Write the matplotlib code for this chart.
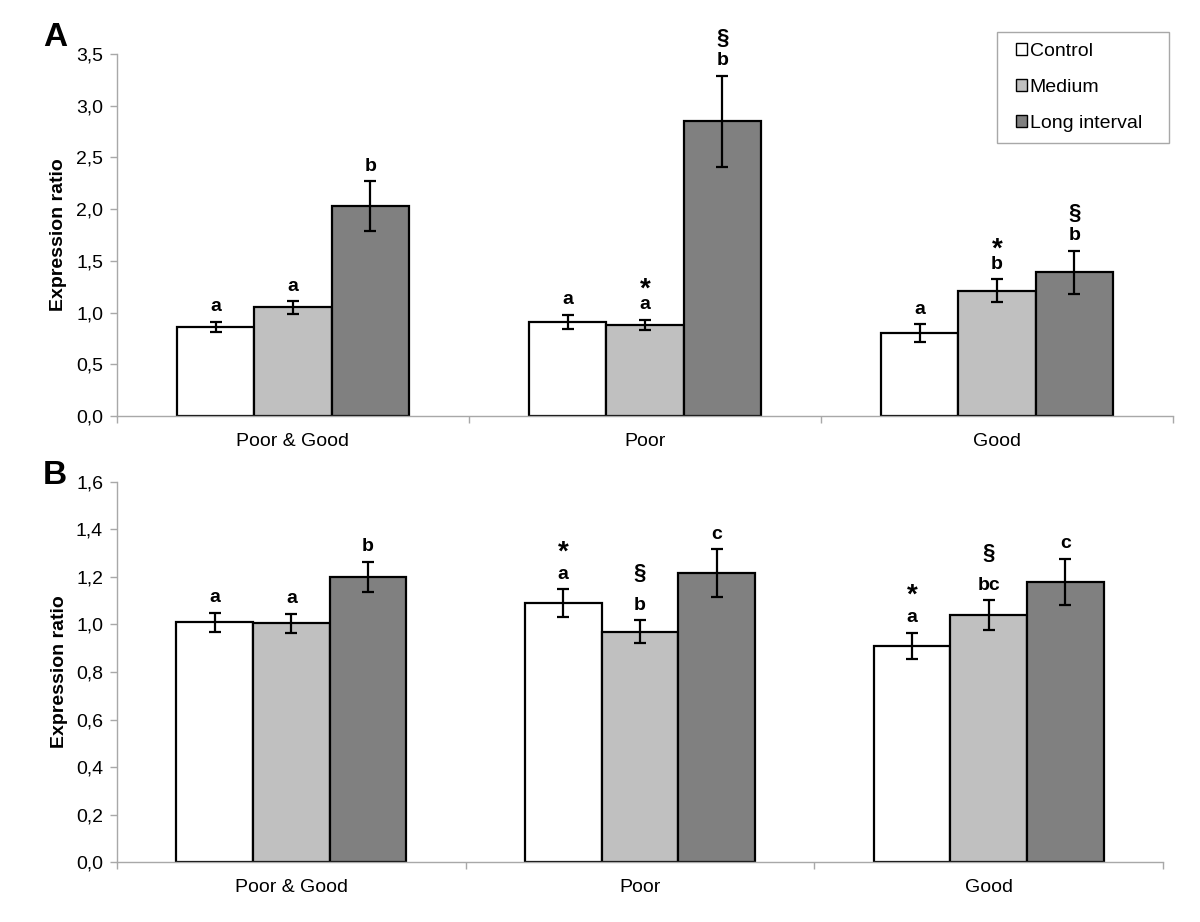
import matplotlib
matplotlib.use('Agg')
import matplotlib.pyplot as plt
import numpy as np
from matplotlib.patches import Patch, Rectangle
from matplotlib.ticker import FixedLocator, FuncFormatter

plt.rcParams['font.family'] = ['Liberation Sans', 'DejaVu Sans']

# ---------------- data ----------------
groups = ['Poor & Good', 'Poor', 'Good']
series = ['Control', 'Medium', 'Long interval']

# Panel A
a_control = [0.86, 0.91, 0.80]
a_control_err = [0.05, 0.07, 0.085]
a_medium = [1.05, 0.88, 1.21]
a_medium_err = [0.06, 0.05, 0.11]
a_long = [2.03, 2.85, 1.39]
a_long_err = [0.24, 0.44, 0.21]
a_control_letters = ['a', 'a', 'a']
a_medium_letters = ['a', 'a', 'b']
a_long_letters = ['b', 'b', 'b']
a_control_marks = ['', '', '']
a_medium_marks = ['', '*', '*']
a_long_marks = ['', '§', '§']
a_yticks = [0.0, 0.5, 1.0, 1.5, 2.0, 2.5, 3.0, 3.5]

# Panel B
b_control = [1.01, 1.09, 0.91]
b_control_err = [0.04, 0.057, 0.055]
b_medium = [1.005, 0.97, 1.04]
b_medium_err = [0.04, 0.047, 0.062]
b_long = [1.20, 1.215, 1.178]
b_long_err = [0.063, 0.10, 0.098]
b_control_letters = ['a', 'a', 'a']
b_medium_letters = ['a', 'b', 'bc']
b_long_letters = ['b', 'c', 'c']
b_control_marks = ['', '*', '*']
b_medium_marks = ['', '§', '§']
b_long_marks = ['', '', '']
b_yticks = [0.0, 0.2, 0.4, 0.6, 0.8, 1.0, 1.2, 1.4, 1.6]

# ---------------- style ----------------
colors = ['#ffffff', '#c0c0c0', '#808080']
axis_gray = '#a8a8a8'
bar_w = 0.22
PX = 72.0 / 100.0  # pixel -> points at dpi 100
FS = 14

fig = plt.figure(figsize=(12, 9.22), dpi=100)
axA = fig.add_axes([117 / 1200, 1 - 416 / 922, 1056 / 1200, (416 - 54) / 922])
axB = fig.add_axes([117 / 1200, 1 - 862.3 / 922, 1046 / 1200, (862.3 - 481.7) / 922])


def draw_panel(ax, vals, errs, letters, marks, yticks, ymax, offs):
    x = np.arange(len(groups))
    for i in range(3):
        xi = x + (i - 1) * bar_w
        ax.bar(xi, vals[i], width=bar_w, color=colors[i], edgecolor='black',
               linewidth=1.6, zorder=2)
        ax.errorbar(xi, vals[i], yerr=errs[i], fmt='none', ecolor='black',
                    elinewidth=1.6, capsize=4, capthick=1.6, zorder=3)
        for j in range(len(groups)):
            top = vals[i][j] + errs[i][j]
            ax.annotate(letters[i][j], xy=(xi[j], top), xytext=(0, offs['letter'] * PX),
                        textcoords='offset points', ha='center', va='center',
                        fontsize=14, fontweight='bold')
            m = marks[i][j]
            if m:
                size = 20 if m == '*' else 16
                ax.annotate(m, xy=(xi[j], top), xytext=(0, offs[m] * PX),
                            textcoords='offset points', ha='center', va='center',
                            fontsize=size, fontweight='bold')
    ax.set_xlim(-0.5, len(groups) - 0.5)
    ax.set_ylim(0, ymax)
    ax.set_yticks(yticks)
    ax.yaxis.set_major_formatter(FuncFormatter(lambda v, p: '{:.1f}'.format(v).replace('.', ',')))
    ax.xaxis.set_major_locator(FixedLocator(np.arange(len(groups) + 1) - 0.5))
    ax.xaxis.set_minor_locator(FixedLocator(x))
    ax.set_xticklabels([], minor=False)
    ax.set_xticklabels(groups, minor=True)
    ax.tick_params(axis='x', which='minor', length=0, pad=12, labelsize=FS)
    ax.tick_params(axis='x', which='major', length=5, color=axis_gray, width=1)
    ax.tick_params(axis='y', length=5, color=axis_gray, width=1, pad=5, labelsize=FS)
    for s in ['top', 'right']:
        ax.spines[s].set_visible(False)
    for s in ['left', 'bottom']:
        ax.spines[s].set_color(axis_gray)
        ax.spines[s].set_linewidth(1)
    ax.set_ylabel('Expression ratio', fontsize=FS, fontweight='bold')
    ax.yaxis.set_label_coords(-0.047, 0.5)


draw_panel(axA,
           [a_control, a_medium, a_long],
           [a_control_err, a_medium_err, a_long_err],
           [a_control_letters, a_medium_letters, a_long_letters],
           [a_control_marks, a_medium_marks, a_long_marks],
           a_yticks, 3.5,
           {'letter': 15, '§': 37, '*': 30})

draw_panel(axB,
           [b_control, b_medium, b_long],
           [b_control_err, b_medium_err, b_long_err],
           [b_control_letters, b_medium_letters, b_long_letters],
           [b_control_marks, b_medium_marks, b_long_marks],
           b_yticks, 1.6,
           {'letter': 15, '§': 47, '*': 37})

# panel letters
fig.text(43 / 1200, 1 - 38 / 922, 'A', fontsize=24, fontweight='bold', va='center', ha='left')
fig.text(43 / 1200, 1 - 475 / 922, 'B', fontsize=24, fontweight='bold', va='center', ha='left')

# legend (frame drawn separately)
x0, x1 = (997 - 117) / 1056, (1169 - 117) / 1056
y1, y0 = (416 - 32) / 362, (416 - 143) / 362
axA.add_patch(Rectangle((x0, y0), x1 - x0, y1 - y0, transform=axA.transAxes,
                        facecolor='white', edgecolor=axis_gray, linewidth=1,
                        clip_on=False, zorder=4))
handles = [Patch(facecolor=c, edgecolor='black', linewidth=1) for c in colors]
leg = axA.legend(handles, series, loc='center',
                 bbox_to_anchor=((x0 + x1) / 2 - 0.004, (y0 + y1) / 2),
                 frameon=False, fontsize=FS, handlelength=0.6, handleheight=0.6,
                 handletextpad=0.12, labelspacing=0.97, borderpad=0, borderaxespad=0)
leg.set_zorder(5)

fig.savefig('out.png', dpi=100, facecolor='white')
